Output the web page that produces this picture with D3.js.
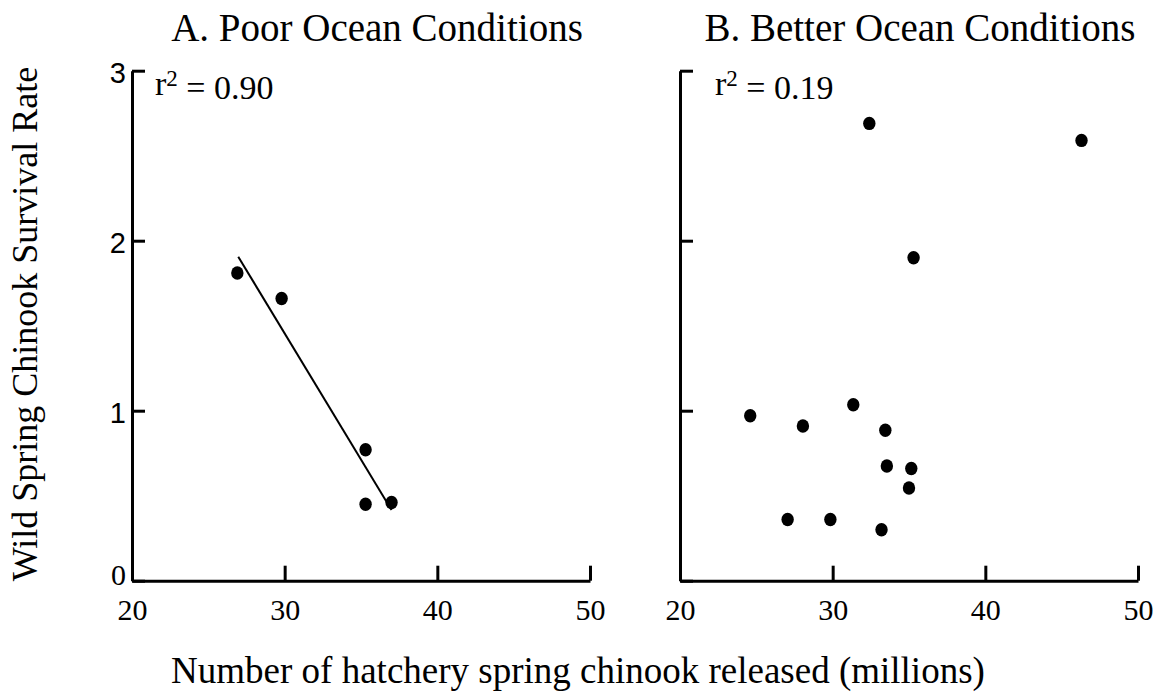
<!DOCTYPE html>
<html lang="en">
<head>
    <meta charset="UTF-8">
    <title>chinook-survival</title>
    <script src="https://cdn.jsdelivr.net/npm/d3@7.8.5/dist/d3.min.js"></script>
    <style>
        body { margin: 0; background: #fff; }
        text { fill: #000; }
    </style>
</head>
<body>
<div id="container"></div>
<script>
    // data
    const panelTitles = ["A. Poor Ocean Conditions", "B. Better Ocean Conditions"];
    const r2Labels = ["0.90", "0.19"];
    const xTicks = [20, 30, 40, 50];
    const yTicks = [0, 1, 2, 3];

    const poorX = [26.9, 29.8, 35.3, 35.3, 37.0];
    const poorY = [1.81, 1.66, 0.77, 0.45, 0.46];
    const fitX = [26.96, 37.0];
    const fitY = [1.906, 0.416];

    const betterX = [32.4, 46.3, 35.3, 24.6, 28.05, 31.35, 33.45, 33.55, 35.15, 35.0, 27.05, 29.85, 33.2];
    const betterY = [2.69, 2.59, 1.90, 0.97, 0.91, 1.035, 0.885, 0.675, 0.66, 0.545, 0.36, 0.36, 0.30];

    const width = 1157;
    const height = 696;
    const serif = "'Liberation Serif', 'Times New Roman', serif";
    const sans = "'Liberation Sans', Arial, sans-serif";

    const svg = d3.select("#container")
        .append("svg")
        .attr("width", width)
        .attr("height", height);

    const yScale = d3.scaleLinear().domain([0, 3]).range([580.7, 70.7]);

    const panels = [
        {x0: 132, x1: 590, titleX: 377, showY: true,
            pts: d3.zip(poorX, poorY), fit: d3.zip(fitX, fitY)},
        {x0: 680, x1: 1138, titleX: 920, showY: false,
            pts: d3.zip(betterX, betterY), fit: null}
    ];

    panels.forEach((p, i) => {
        const xScale = d3.scaleLinear().domain([20, 50]).range([p.x0, p.x1]);
        const g = svg.append("g");

        // x 轴，刻度朝上
        const xAxis = g.append("g")
            .attr("transform", `translate(0, ${yScale(0)})`)
            .call(d3.axisBottom(xScale).tickValues(xTicks).tickSizeInner(-15).tickSizeOuter(0).tickPadding(18));
        xAxis.selectAll("text")
            .attr("font-family", serif)
            .attr("font-size", 30)
            .attr("dy", "0.7em");

        // y 轴，刻度朝右
        const yAxis = g.append("g")
            .attr("transform", `translate(${p.x0}, 0)`)
            .call(d3.axisLeft(yScale).tickValues(yTicks).tickSizeInner(-13).tickSizeOuter(0).tickPadding(6)
                .tickFormat(d => p.showY ? d : ""));
        yAxis.selectAll("text")
            .attr("font-family", d => d === 0 ? serif : sans)
            .attr("font-size", d => d === 0 ? 30 : 29)
            .attr("dy", d => d === 0 ? "0.14em" : "0.42em");

        g.selectAll(".domain, .tick line")
            .attr("stroke", "#000")
            .attr("stroke-width", 3);

        // 标题
        svg.append("text")
            .attr("x", p.titleX)
            .attr("y", 41)
            .attr("text-anchor", "middle")
            .style("font-family", serif)
            .style("font-size", "39px")
            .text(panelTitles[i]);

        // r^2
        const r2 = svg.append("text")
            .attr("x", p.x0 + (i === 0 ? 23 : 35))
            .attr("y", 95)
            .style("font-family", serif)
            .style("font-size", "34px");
        r2.append("tspan").text("r");
        r2.append("tspan").attr("dy", "-0.4em").style("font-size", "23px").text("2");
        r2.append("tspan").attr("dy", "0.4em").text(" = " + r2Labels[i]);

        if (p.fit) {
            g.append("line")
                .attr("x1", xScale(p.fit[0][0]))
                .attr("y1", yScale(p.fit[0][1]))
                .attr("x2", xScale(p.fit[1][0]))
                .attr("y2", yScale(p.fit[1][1]))
                .attr("stroke", "#000")
                .attr("stroke-width", 2);
        }

        g.selectAll("ellipse.pt")
            .data(p.pts)
            .join("ellipse")
            .attr("class", "pt")
            .attr("cx", d => xScale(d[0]))
            .attr("cy", d => yScale(d[1]))
            .attr("rx", 6.2)
            .attr("ry", 6.7)
            .attr("fill", "#000");
    });

    // 轴标题
    svg.append("text")
        .attr("transform", "translate(37, 324) rotate(-90)")
        .attr("text-anchor", "middle")
        .style("font-family", serif)
        .style("font-size", "36px")
        .text("Wild Spring Chinook Survival Rate");

    svg.append("text")
        .attr("x", 578)
        .attr("y", 683)
        .attr("text-anchor", "middle")
        .style("font-family", serif)
        .style("font-size", "37px")
        .text("Number of hatchery spring chinook released (millions)");
</script>
</body>
</html>
